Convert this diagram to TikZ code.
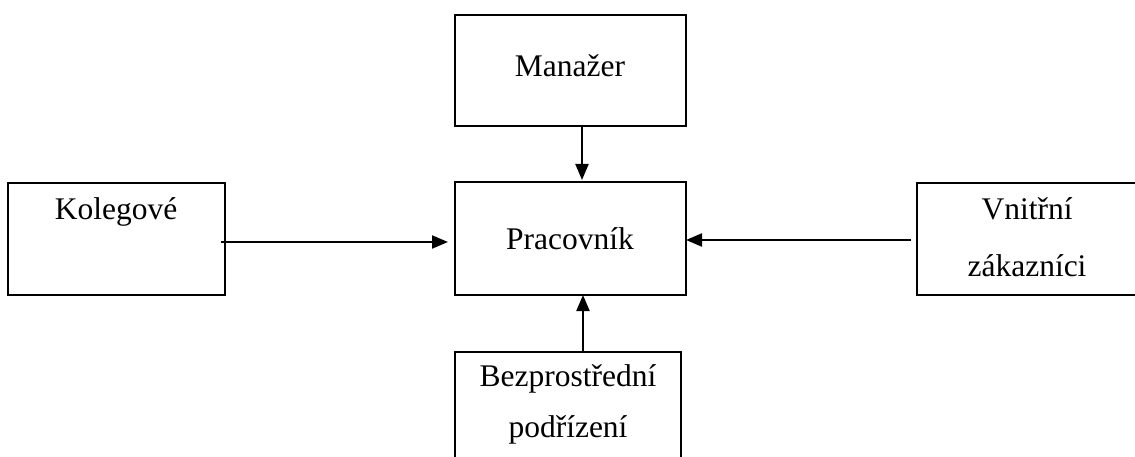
\documentclass[tikz,border=0pt]{standalone}
\usepackage{fontspec}
\setmainfont{Liberation Serif}
\usetikzlibrary{arrows.meta}
\begin{document}
\begin{tikzpicture}[x=1pt,y=-1pt,
  box/.style={draw,line width=2.8pt,rectangle,inner sep=0pt,outer sep=0pt},
  lbl/.style={anchor=base,inner sep=0pt,font=\fontsize{31.5}{38}\selectfont},
  conn/.style={line width=2.2pt,-{Triangle[length=16pt,width=13pt]}}]
\useasboundingbox (0,0) rectangle (1135,457);
\node[box,minimum width=231pt,minimum height=111pt] (man) at (570.5,70.5) {};
\node[box,minimum width=231pt,minimum height=113pt] (pra) at (570.5,238.5) {};
\node[box,minimum width=217pt,minimum height=112pt] (kol) at (116.5,239) {};
\node[box,minimum width=223pt,minimum height=112pt] (vni) at (1028.5,239) {};
\node[box,minimum width=226pt,minimum height=118pt] (bez) at (568,411) {};
\node[lbl] (tman) at (570,77) {Manažer};
\node[lbl] (tpra) at (570,249) {Pracovník};
\node[lbl] (tkol) at (116,219) {Kolegové};
\node[lbl] (tvni1) at (1027,219) {Vnitřní};
\node[lbl] (tvni2) at (1027,276) {zákazníci};
\node[lbl] (tbez1) at (568,386) {Bezprostřední};
\node[lbl] (tbez2) at (568,437) {podřízení};
\coordinate (kolstart) at (221,242);
\draw[conn,shorten >=7pt] (kolstart) -- (kolstart -| pra.west);
\coordinate (vnistart) at (911,240);
\draw[conn] (vnistart) -- (vnistart -| pra.east);
\draw[conn,shorten >=2pt] (man.south -| 582,0) -- (pra.north -| 582,0);
\draw[conn] (bez.north -| 583,0) -- (pra.south -| 583,0);
\end{tikzpicture}
\end{document}
